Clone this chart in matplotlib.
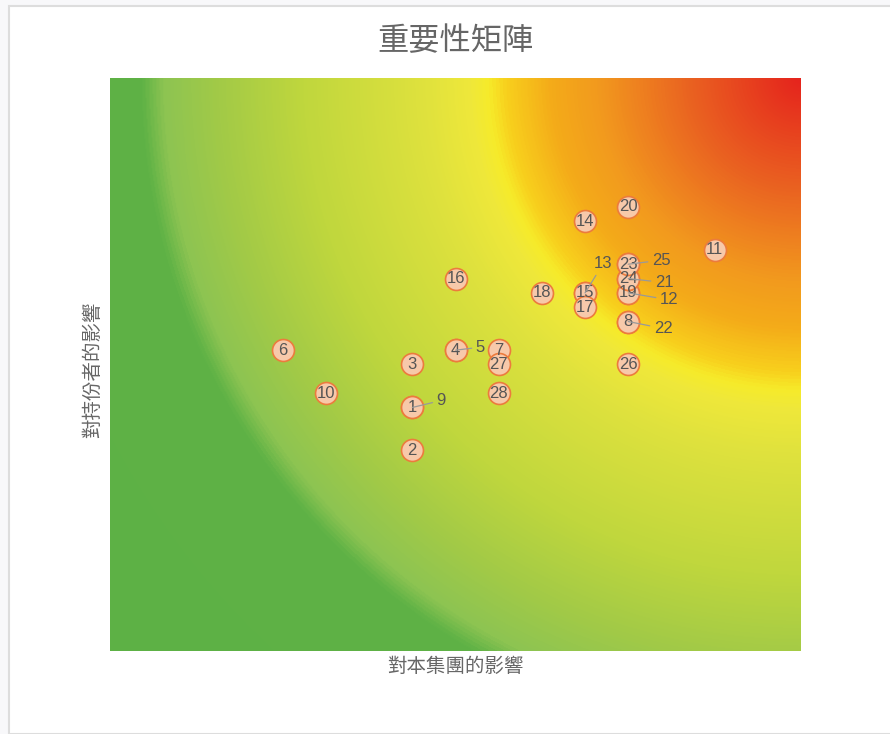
import numpy as np
import matplotlib
matplotlib.use('Agg')
import matplotlib.pyplot as plt
from matplotlib.colors import LinearSegmentedColormap
from matplotlib.patches import Rectangle

# topic numbers and their scores
ids = [1, 2, 3, 4, 5, 6, 7, 8, 9, 10, 11, 12, 13, 14,
       15, 16, 17, 18, 19, 20, 21, 22, 23, 24, 25, 26, 27, 28]
impact_group = [3.5, 3.5, 3.5, 4.0, 4.0, 2.0, 4.5, 6.0, 3.5, 2.5, 7.0, 6.0, 5.5, 5.5,
                5.5, 4.0, 5.5, 5.0, 6.0, 6.0, 6.0, 6.0, 6.0, 6.0, 6.0, 6.0, 4.5, 4.5]
impact_stake = [1.7, 1.4, 2.0, 2.1, 2.1, 2.1, 2.1, 2.3, 1.7, 1.8, 2.8, 2.5, 2.5, 3.0,
                2.5, 2.6, 2.4, 2.5, 2.5, 3.1, 2.6, 2.3, 2.7, 2.6, 2.7, 2.0, 2.0, 1.8]

title = '重要性矩陣'
x_title = '對本集團的影響'
y_title = '對持份者的影響'

# labels that were pushed aside because they overlap another point (pixel offsets)
moved = {5: (25, 3), 9: (29, 7), 12: (41, -7), 13: (18, 29),
         21: (36, -4), 22: (35, -7), 25: (33, 4)}

W, H = 890, 734
fig = plt.figure(figsize=(W / 100, H / 100), dpi=100)
fig.patch.set_facecolor('#f8f8fa')
fig.patches.append(Rectangle((9 / W, 0), 1, (H - 6) / H, transform=fig.transFigure,
                             facecolor='white', edgecolor='#dddddd', lw=1.5, zorder=-10))

L, R, T, B = 110, 801, 78, 651
ax = fig.add_axes([L / W, (H - B) / H, (R - L) / W, (B - T) / H])
ax.set_xlim(0, 8)
ax.set_ylim(0, 4)

# radial background, centred on the top-right corner (distances in pixels)
pw, ph = R - L, B - T
u = np.linspace(0, 1, 700)
v = np.linspace(0, 1, 580)
U, V = np.meshgrid(u, v)
d = np.sqrt(((1 - U) * pw) ** 2 + ((1 - V) * ph) ** 2)
dmax = np.hypot(pw, ph)
stops = [(0, '#e5241d'), (113, '#ea6421'), (203, '#f29a1e'), (249, '#f4ab19'),
         (294, '#f8d01d'), (312, '#f6eb2a'), (330, '#efe83a'), (384, '#dde13e'),
         (497, '#c0d73d'), (583, '#a2ca47'), (638, '#8dc452'), (660, '#5fb246'),
         (dmax, '#5db145')]
cmap = LinearSegmentedColormap.from_list('mat', [(s / dmax, c) for s, c in stops])
ax.imshow(d / dmax, cmap=cmap, vmin=0, vmax=1, origin='lower', extent=(0, 8, 0, 4),
          aspect='auto', interpolation='bilinear', zorder=0)

ax.scatter(impact_group, impact_stake, s=250, facecolor='#f7c9aa', edgecolor='#ec7b3d',
           linewidth=1.2, zorder=3)

for i, x, y in zip(ids, impact_group, impact_stake):
    if i in moved:
        ax.annotate(str(i), (x, y), xytext=moved[i], textcoords='offset pixels',
                    ha='center', va='center', fontsize=12, color='#555555',
                    family=['Liberation Sans'], zorder=5,
                    arrowprops=dict(arrowstyle='-', color='#999999', lw=0.9,
                                    shrinkA=1, shrinkB=0))
    else:
        ax.text(x, y, str(i), ha='center', va='center', fontsize=12, color='#555555',
                family=['Liberation Sans'], zorder=4)

ax.set_xticks([])
ax.set_yticks([])
for s in ax.spines.values():
    s.set_visible(False)

cjk = ['Noto Sans CJK TC', 'DejaVu Sans']
fig.text((L + R) / 2 / W, 1 - 41 / H, title, ha='center', va='center',
         fontsize=22.5, color='#666666', family=cjk)
fig.text((L + R) / 2 / W, 1 - 666 / H, x_title, ha='center', va='center',
         fontsize=14, color='#666666', family=cjk)
fig.text(93 / W, 1 - 370 / H, y_title, ha='center', va='center', rotation=90,
         fontsize=14, color='#666666', family=cjk)

plt.savefig('out.png', dpi=100)
